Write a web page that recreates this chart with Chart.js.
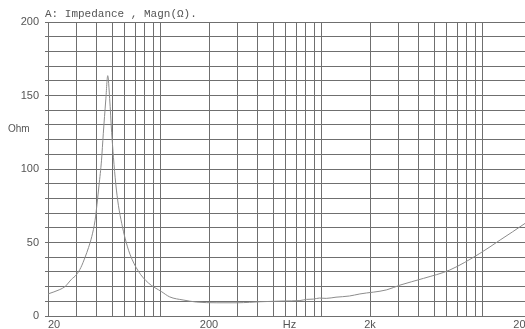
<!DOCTYPE html>
<html>
<head>
<meta charset="utf-8">
<title>Impedance</title>
<script src="https://cdn.jsdelivr.net/npm/chart.js@4/dist/chart.umd.min.js"></script>
<style>
  html, body { margin: 0; padding: 0; overflow: hidden; background: #ffffff; }
  canvas { display: block; }
</style>
</head>
<body>
<canvas id="imp" width="545" height="329"></canvas>
<script>
// Impedance magnitude sweep (Hz, Ohm)
const freqHz = [20, 23.7, 25.5, 28, 30, 32, 34, 35.7, 37.4, 39.2, 40.3, 41.5, 43.0, 44.1, 45.7, 47.0,
  48.3, 49.7, 51.0, 52.7, 54.8, 57.4, 60.2, 64.6, 72.8, 84, 101.7, 114, 138, 167, 224, 300, 357, 416,
  577, 734, 806, 890, 970, 1070, 1230, 1490, 1730, 2540, 3070, 4300, 6260, 9630, 12860, 18370, 20000];
const impedanceOhm = [15, 18, 20, 25, 28, 33, 40, 46.5, 54, 65, 76, 89, 106, 124, 147, 163.5,
  148, 125, 108, 90, 75, 63, 53, 42, 30.5, 22.5, 16.5, 13, 10.9, 9.5, 9, 9, 9.3, 9.7,
  10.2, 10.5, 11.3, 11.5, 12.2, 12, 12.8, 13.6, 15, 17.8, 21, 25.6, 31.3, 42.6, 51.7, 63, 66];

// Log grid lines along the frequency axis
const xGridValues = [20, 30, 40, 50, 60, 70, 80, 90, 100,
  200, 300, 400, 500, 600, 700, 800, 900, 1000,
  2000, 3000, 4000, 5000, 6000, 7000, 8000, 9000, 10000, 20000];
const xLabelValues = [20, 200, 2000, 20000];
const xLabelTexts = ['20', '200', '2k', '20k'];
const xUnitText = 'Hz';
const xUnitAt = Math.sqrt(200 * 2000);

const yLabelValues = [0, 50, 100, 150, 200];
const yUnitText = 'Ohm';
const yUnitAt = 127;
const titleText = 'A: Impedance , Magn(\u03A9).';

const gridColor = '#6f6f6f';
const textColor = '#555555';

const labels = {
  id: 'labels',
  afterDraw(chart) {
    const { ctx, chartArea, scales } = chart;
    ctx.save();
    ctx.fillStyle = textColor;
    ctx.font = '11px "Liberation Mono", "DejaVu Sans Mono", monospace';
    ctx.textAlign = 'left';
    ctx.textBaseline = 'alphabetic';
    ctx.fillText(titleText, chartArea.left - 3, 17);
    ctx.font = '10px "Liberation Sans", Arial, sans-serif';
    ctx.textBaseline = 'middle';
    ctx.fillText(yUnitText, 8, scales.y.getPixelForValue(yUnitAt));
    ctx.restore();
  }
};

new Chart(document.getElementById('imp'), {
  type: 'line',
  data: {
    datasets: [{
      data: freqHz.map((f, i) => ({ x: f, y: impedanceOhm[i] })),
      borderColor: '#8c8c8c',
      borderWidth: 1,
      pointRadius: 0,
      cubicInterpolationMode: 'monotone',
      fill: false
    }]
  },
  options: {
    responsive: false,
    animation: false,
    layout: { padding: { top: 22, left: 0, right: 14, bottom: 0 } },
    plugins: { legend: { display: false }, tooltip: { enabled: false }, title: { display: false } },
    scales: {
      x: {
        type: 'logarithmic',
        min: 20,
        max: 20000,
        afterBuildTicks: s => {
          s.ticks = xGridValues.concat([xUnitAt]).sort((a, b) => a - b).map(v => ({ value: v }));
        },
        afterFit: s => { s.height = 13; },
        grid: {
          color: c => (c.tick && c.tick.value === xUnitAt) ? 'rgba(0,0,0,0)' : gridColor,
          lineWidth: 1,
          drawTicks: false
        },
        border: { display: true, color: gridColor },
        ticks: {
          autoSkip: false,
          maxRotation: 0,
          align: 'inner',
          padding: 2,
          color: textColor,
          font: { family: '"Liberation Sans", Arial, sans-serif', size: 11 },
          callback: v => {
            if (v === xUnitAt) return xUnitText;
            const k = xLabelValues.indexOf(v);
            return k >= 0 ? xLabelTexts[k] : '';
          }
        }
      },
      y: {
        min: 0,
        max: 200,
        afterFit: s => { s.width = 48; },
        grid: { color: gridColor, lineWidth: 1, drawTicks: true, tickLength: 3 },
        border: { display: true, color: gridColor },
        ticks: {
          stepSize: 10,
          autoSkip: false,
          padding: 6,
          color: textColor,
          font: { family: '"Liberation Sans", Arial, sans-serif', size: 11 },
          callback: v => yLabelValues.includes(v) ? String(v) : ''
        }
      }
    }
  },
  plugins: [labels]
});
</script>
</body>
</html>
